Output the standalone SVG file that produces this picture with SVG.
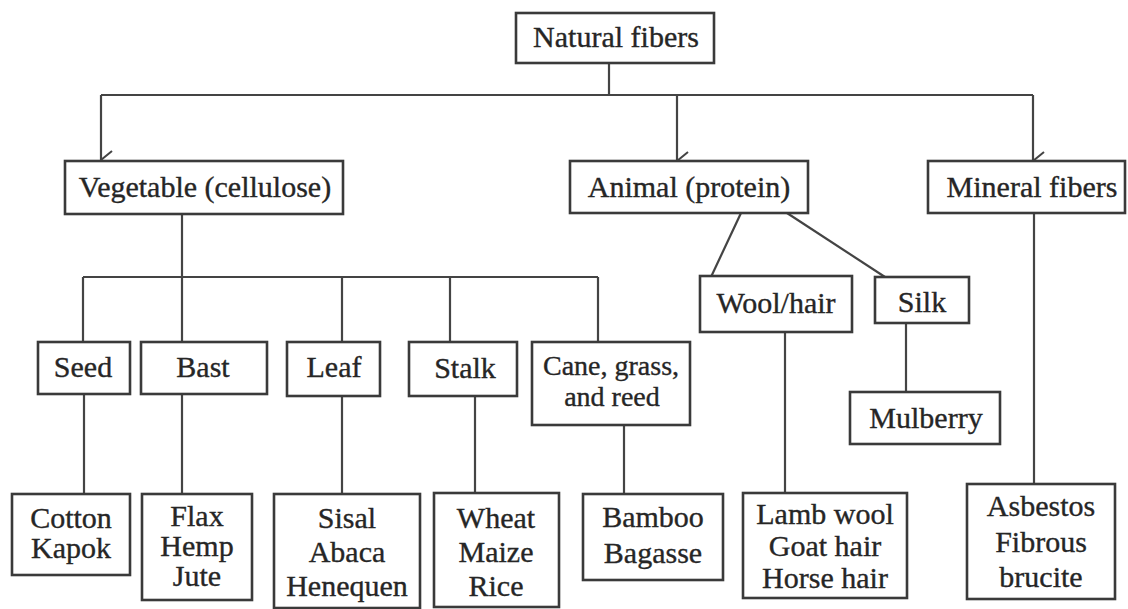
<svg xmlns="http://www.w3.org/2000/svg" width="1128" height="609" viewBox="0 0 1128 609">
<defs>
<style>
.box{fill:#fff;stroke:#3a3a3a;stroke-width:2.6}
.ln{fill:none;stroke:#444;stroke-width:2.2}
.t{font-size:30px;fill:#262626;stroke:#262626;stroke-width:0.35;text-anchor:middle}
.s{font-size:28px}
</style>
<marker id="arr" viewBox="0 0 20 14" refX="10" refY="13" markerWidth="20" markerHeight="14" markerUnits="userSpaceOnUse" orient="auto-start-reverse">
<path d="M1,2 L10,13 L19,2" fill="none" stroke="#444" stroke-width="2"/>
</marker>
</defs>
<rect width="1128" height="609" fill="#fff"/>
<g id="connectors">
<path class="ln" d="M609,63 V95"/>
<path class="ln" d="M101,95 H1033"/>
<path class="ln" d="M101,95 V160" marker-end="url(#arr)"/>
<path class="ln" d="M677,95 V161" marker-end="url(#arr)"/>
<path class="ln" d="M1033,95 V161" marker-end="url(#arr)"/>
<path class="ln" d="M182,214 V277"/>
<path class="ln" d="M83,277 H598"/>
<path class="ln" d="M83,277 V342"/>
<path class="ln" d="M182,277 V342"/>
<path class="ln" d="M342,277 V342"/>
<path class="ln" d="M450,277 V342"/>
<path class="ln" d="M598,277 V342"/>
<path class="ln" d="M84,394 V494"/>
<path class="ln" d="M182,394 V494"/>
<path class="ln" d="M342,396 V494"/>
<path class="ln" d="M475,396 V493"/>
<path class="ln" d="M624,425 V494"/>
<path class="ln" d="M741,213 L711,277"/>
<path class="ln" d="M787,213 L885,277"/>
<path class="ln" d="M785,332 V493"/>
<path class="ln" d="M906,323 V392"/>
<path class="ln" d="M1034,213 V484"/>
</g>
<g font-family="'Liberation Serif', 'DejaVu Serif', 'Noto Serif', serif">
<g id="natural"><rect class="box" x="516" y="13" width="198" height="50"/><text class="t" x="616" y="47">Natural fibers</text></g>
<g id="vegetable"><rect class="box" x="65" y="161" width="278" height="53"/><text class="t" x="205" y="197">Vegetable (cellulose)</text></g>
<g id="animal"><rect class="box" x="570" y="161" width="238" height="52"/><text class="t" x="689" y="197">Animal (protein)</text></g>
<g id="mineral"><rect class="box" x="928" y="161" width="197" height="52"/><text class="t" x="1032" y="197">Mineral fibers</text></g>
<g id="seed"><rect class="box" x="38" y="342" width="92" height="52"/><text class="t" x="83" y="377">Seed</text></g>
<g id="bast"><rect class="box" x="141" y="342" width="126" height="52"/><text class="t" x="203" y="377">Bast</text></g>
<g id="leaf"><rect class="box" x="287" y="342" width="93" height="54"/><text class="t" x="334" y="377">Leaf</text></g>
<g id="stalk"><rect class="box" x="409" y="342" width="108" height="54"/><text class="t" x="465" y="378">Stalk</text></g>
<g id="cane"><rect class="box" x="532" y="342" width="158" height="83"/><text class="t s" x="611" y="375">Cane, grass,</text><text class="t s" x="612" y="406">and reed</text></g>
<g id="woolhair"><rect class="box" x="700" y="276" width="152" height="56"/><text class="t" x="776" y="313">Wool/hair</text></g>
<g id="silk"><rect class="box" x="875" y="277" width="94" height="46"/><text class="t" x="922" y="312">Silk</text></g>
<g id="mulberry"><rect class="box" x="850" y="392" width="150" height="52"/><text class="t" x="926" y="428">Mulberry</text></g>
<g id="cotton"><rect class="box" x="12" y="494" width="118" height="81"/><text class="t" x="71" y="528">Cotton</text><text class="t" x="71" y="558">Kapok</text></g>
<g id="flax"><rect class="box" x="142" y="494" width="110" height="106"/><text class="t" x="197" y="526">Flax</text><text class="t" x="197" y="556">Hemp</text><text class="t" x="197" y="586">Jute</text></g>
<g id="sisal"><rect class="box" x="274" y="494" width="146" height="114"/><text class="t" x="347" y="528">Sisal</text><text class="t" x="347" y="562">Abaca</text><text class="t" x="347" y="596">Henequen</text></g>
<g id="wheat"><rect class="box" x="434" y="493" width="125" height="114"/><text class="t" x="496" y="528">Wheat</text><text class="t" x="496" y="562">Maize</text><text class="t" x="496" y="596">Rice</text></g>
<g id="bamboo"><rect class="box" x="583" y="494" width="140" height="86"/><text class="t" x="653" y="527">Bamboo</text><text class="t" x="653" y="563">Bagasse</text></g>
<g id="lamb"><rect class="box" x="743" y="493" width="164" height="105"/><text class="t" x="825" y="524">Lamb wool</text><text class="t" x="825" y="556">Goat hair</text><text class="t" x="825" y="588">Horse hair</text></g>
<g id="asbestos"><rect class="box" x="967" y="484" width="148" height="115"/><text class="t" x="1041" y="516">Asbestos</text><text class="t" x="1041" y="552">Fibrous</text><text class="t" x="1041" y="587">brucite</text></g>
</g>
</svg>
